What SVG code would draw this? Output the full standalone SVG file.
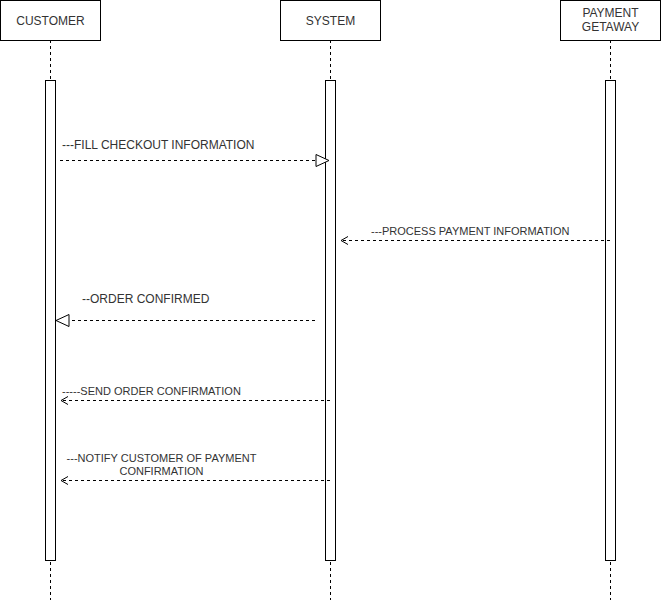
<svg xmlns="http://www.w3.org/2000/svg" width="661" height="601" viewBox="0 0 661 601">
  <defs>
    <style>
      .head { fill: #ffffff; stroke: #000000; stroke-width: 1; }
      .act { fill: #ffffff; stroke: #000000; stroke-width: 1; }
      .life { stroke: #000000; stroke-width: 1; stroke-dasharray: 3 3; fill: none; }
      .msg { stroke: #000000; stroke-width: 1; stroke-dasharray: 3 3; fill: none; }
      .t { font-family: "Liberation Sans", Arial, sans-serif; font-size: 12px; fill: #333333; }
      .ts { font-family: "Liberation Sans", Arial, sans-serif; font-size: 11px; fill: #333333; }
      .mid { text-anchor: middle; }
    </style>
  </defs>

  <!-- lifelines with activation bars -->
  <g id="customer">
    <line class="life" x1="50.5" y1="40" x2="50.5" y2="600"/>
    <rect class="head" x="0.5" y="0.5" width="100" height="40"/>
    <text class="t mid" x="50.5" y="24.5">CUSTOMER</text>
    <rect class="act" x="45.5" y="80.5" width="10" height="480"/>
  </g>
  <g id="system">
    <line class="life" x1="330.5" y1="40" x2="330.5" y2="600"/>
    <rect class="head" x="280.5" y="0.5" width="100" height="40"/>
    <text class="t mid" x="330.5" y="24.5">SYSTEM</text>
    <rect class="act" x="325.5" y="80.5" width="10" height="480"/>
  </g>
  <g id="payment-getaway">
    <line class="life" x1="610.5" y1="40" x2="610.5" y2="600"/>
    <rect class="head" x="560.5" y="0.5" width="100" height="40"/>
    <text class="t mid" x="610.5" y="17">PAYMENT</text>
    <text class="t mid" x="610.5" y="31">GETAWAY</text>
    <rect class="act" x="605.5" y="80.5" width="10" height="480"/>
  </g>

  <!-- messages -->
  <g id="connectors">
    <!-- fill checkout information -->
    <line class="msg" x1="60" y1="160.5" x2="316" y2="160.5"/>
    <path d="M316,154.5 L329,160.5 L316,166.5 Z" fill="#ffffff" stroke="#000000"/>
    <text class="t" x="62" y="149">---FILL CHECKOUT INFORMATION</text>

    <!-- process payment information -->
    <line class="msg" x1="610" y1="240.5" x2="342" y2="240.5"/>
    <path d="M348,236.5 L341,240.5 L348,244.5" fill="none" stroke="#000000"/>
    <text class="ts" x="371" y="235">---PROCESS PAYMENT INFORMATION</text>

    <!-- order confirmed -->
    <line class="msg" x1="315" y1="320.5" x2="69" y2="320.5"/>
    <path d="M69,314.5 L56,320.5 L69,326.5 Z" fill="#ffffff" stroke="#000000"/>
    <text class="t" x="82" y="303">--ORDER CONFIRMED</text>

    <!-- send order confirmation -->
    <line class="msg" x1="330" y1="400.5" x2="62" y2="400.5"/>
    <path d="M68,396.5 L61,400.5 L68,404.5" fill="none" stroke="#000000"/>
    <text class="ts" x="62" y="395">-----SEND ORDER CONFIRMATION</text>

    <!-- notify customer of payment confirmation -->
    <line class="msg" x1="330" y1="480.5" x2="62" y2="480.5"/>
    <path d="M68,476.5 L61,480.5 L68,484.5" fill="none" stroke="#000000"/>
    <text class="ts mid" x="161.5" y="462">---NOTIFY CUSTOMER OF PAYMENT</text>
    <text class="ts mid" x="161.5" y="475">CONFIRMATION</text>
  </g>
</svg>
